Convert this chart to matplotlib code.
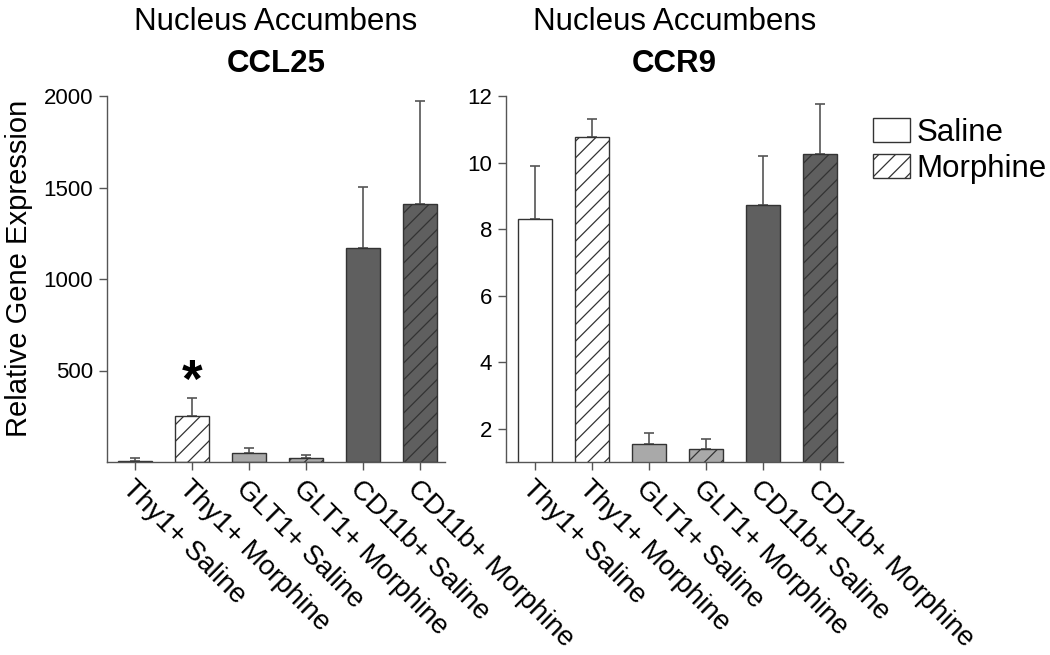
import matplotlib
matplotlib.use("Agg")
import matplotlib.pyplot as plt
from matplotlib.patches import Patch
from matplotlib.transforms import ScaledTranslation

plt.rcParams['font.family'] = ['Liberation Sans', 'DejaVu Sans']
plt.rcParams['hatch.linewidth'] = 0.9

# data
groups = ["Thy1+ Saline", "Thy1+ Morphine", "GLT1+ Saline",
          "GLT1+ Morphine", "CD11b+ Saline", "CD11b+ Morphine"]
ccl25_mean = [8, 252, 50, 23, 1170, 1410]
ccl25_err = [12, 96, 28, 17, 335, 565]
ccr9_mean = [8.3, 10.77, 1.53, 1.38, 8.72, 10.25]
ccr9_err = [1.6, 0.53, 0.35, 0.32, 1.48, 1.5]

# styling per bar
face = ["white", "white", "#a9a9a9", "#a9a9a9", "#5f5f5f", "#5f5f5f"]
hatch = [None, "//", None, "//", None, "//"]
edge = "#333333"
axis_col = "#555555"

fig = plt.figure(figsize=(10.5, 6.55), dpi=100)
ax1 = fig.add_axes([107/1050, 1 - 462/655, 338/1050, 366/655])
ax2 = fig.add_axes([506/1050, 1 - 462/655, 337/1050, 366/655])


def draw_panel(ax, means, errs, gene, ylim, yticks, xlim):
    x = range(len(groups))
    for i in x:
        ax.bar(i, means[i], width=0.6, color=face[i], edgecolor=edge,
               hatch=hatch[i], linewidth=1.0, zorder=2)
    ax.errorbar(list(x), means, yerr=[[0]*len(errs), errs], fmt='none',
                ecolor="#555555", elinewidth=1.2, capsize=3.6, capthick=1.2,
                zorder=1)
    ax.set_ylim(*ylim)
    ax.set_xlim(*xlim)
    ax.set_yticks(yticks)
    ax.set_yticklabels([str(t) for t in yticks], fontsize=16)
    ax.set_xticks(list(x))
    ax.set_xticklabels(groups, fontsize=20, rotation=-45, ha='left',
                       va='top', rotation_mode='anchor')
    off = ScaledTranslation(-7/100, -4/100, fig.dpi_scale_trans)
    for lab in ax.get_xticklabels():
        lab.set_transform(lab.get_transform() + off)
    for s in ['top', 'right']:
        ax.spines[s].set_visible(False)
    for s in ['left', 'bottom']:
        ax.spines[s].set_color(axis_col)
        ax.spines[s].set_linewidth(1.0)
    ax.tick_params(axis='both', direction='out', length=6, width=1.0,
                   color=axis_col, pad=4)
    # two-line heading: region name, then gene in bold
    pos = ax.get_position()
    xc = (pos.x0 + pos.x1) / 2
    fig.text(xc, 1 - 30/655, "Nucleus Accumbens", ha='center',
             va='baseline', fontsize=22.5)
    fig.text(xc, 1 - 72/655, gene, ha='center', va='baseline',
             fontsize=22.5, fontweight='bold')


draw_panel(ax1, ccl25_mean, ccl25_err, "CCL25", (0, 2000),
           [500, 1000, 1500, 2000], (-0.49, 5.44))
draw_panel(ax2, ccr9_mean, ccr9_err, "CCR9", (1, 12),
           [2, 4, 6, 8, 10, 12], (-0.51, 5.40))

ax1.set_ylabel("Relative Gene Expression", fontsize=21)
ax1.yaxis.set_label_coords(-0.22, 0.53)

# significance marker
ax1.text(1, ccl25_mean[1] + ccl25_err[1] - 50, "*", ha='center',
         va='bottom', fontsize=38, fontweight='bold')

handles = [Patch(facecolor="white", edgecolor=edge, linewidth=1.0),
           Patch(facecolor="white", edgecolor=edge, hatch="//", linewidth=1.0)]
fig.legend(handles, ["Saline", "Morphine"], loc='upper left',
           bbox_to_anchor=(873/1050, 1 - 118/655), frameon=False,
           fontsize=22.5, handlelength=1.18, handleheight=0.8,
           handletextpad=0.22, labelspacing=0.18, borderpad=0,
           borderaxespad=0)

fig.savefig("out.png", dpi=100)
